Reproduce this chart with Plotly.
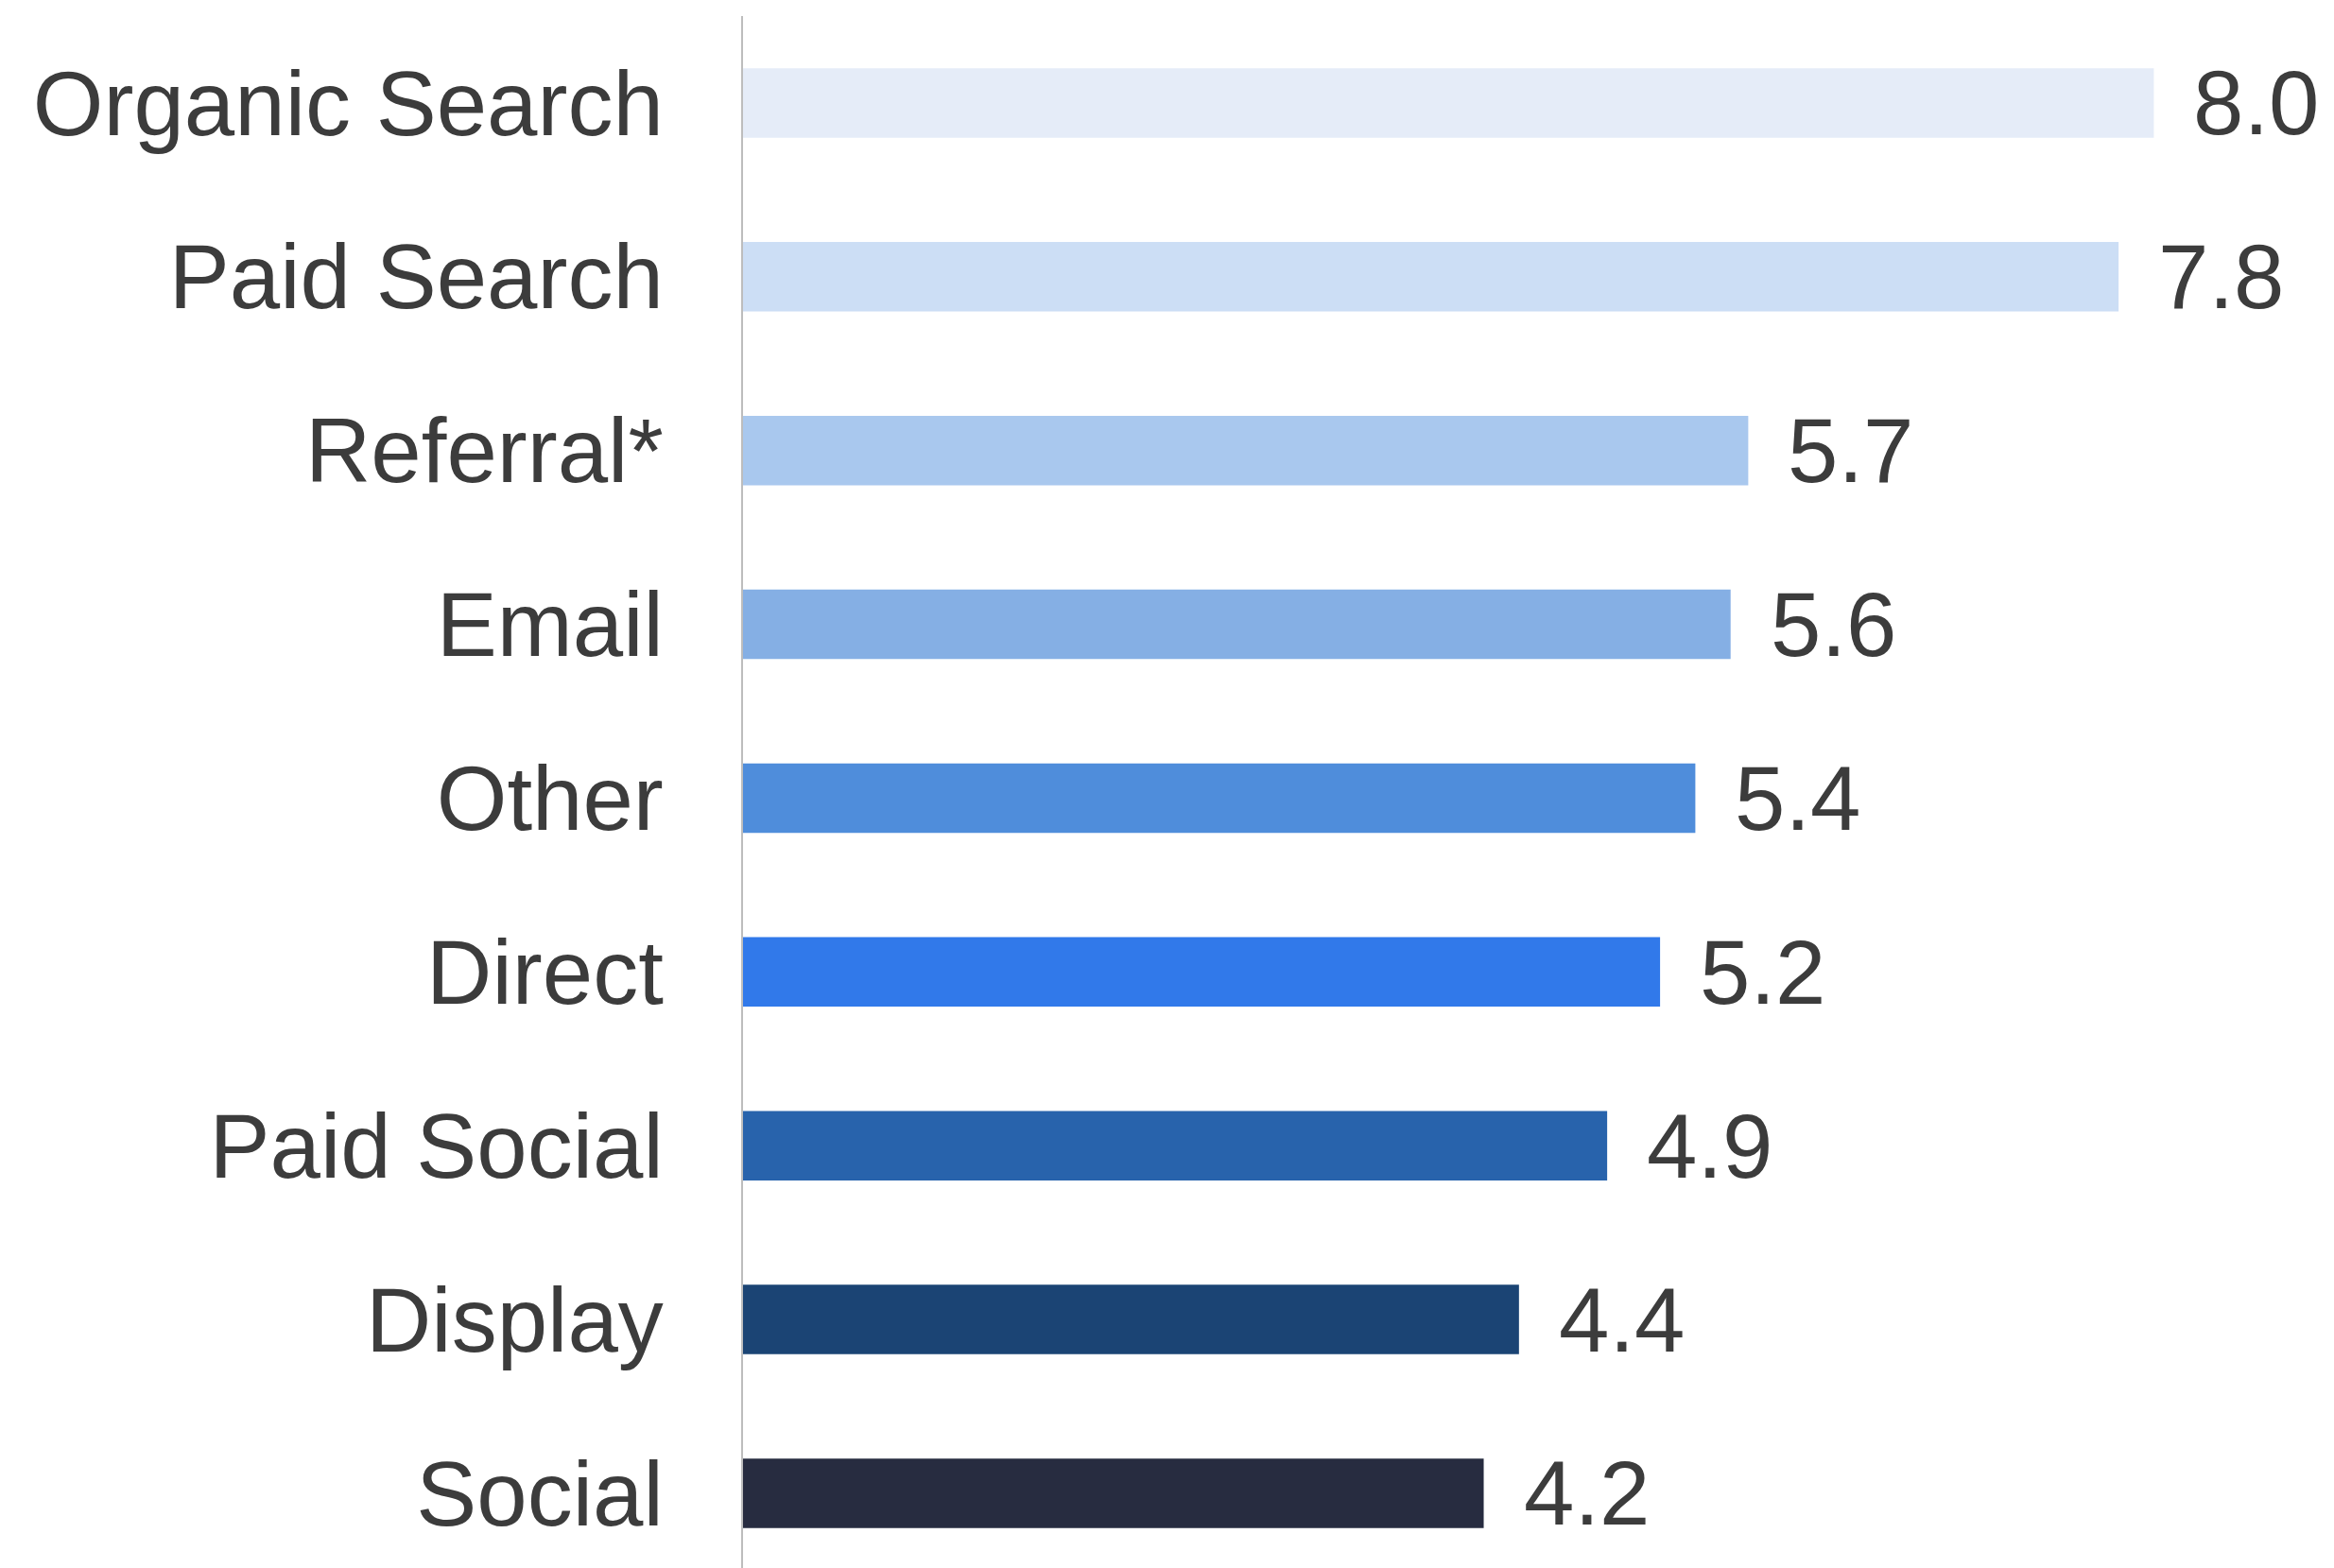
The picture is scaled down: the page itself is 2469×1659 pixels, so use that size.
import plotly.graph_objects as go

# Channel scores, top to bottom
channels = ["Organic Search", "Paid Search", "Referral*", "Email", "Other",
            "Direct", "Paid Social", "Display", "Social"]
scores = [8.0, 7.8, 5.7, 5.6, 5.4, 5.2, 4.9, 4.4, 4.2]
bar_colors = ["#E5ECF8", "#CCDEF5", "#A9C8EE", "#85AFE4", "#4F8DDB",
              "#3179EA", "#2863AC", "#1B4474", "#272C40"]

positions = list(range(len(channels)))
label_font = dict(family="Liberation Sans, Arial, sans-serif", size=96, color="#3C3C3C")

fig = go.Figure(
    go.Bar(
        x=scores,
        y=positions,
        orientation="h",
        width=0.40,
        marker=dict(color=bar_colors, line=dict(width=0)),
        hoverinfo="x+y",
    )
)

# Value labels just past the end of each bar
for pos, val in zip(positions, scores):
    fig.add_annotation(
        x=val, y=pos, xref="x", yref="y",
        text=f"{val:.1f}",
        showarrow=False,
        xanchor="left", yanchor="middle",
        xshift=40,
        font=label_font,
    )

fig.update_layout(
    width=2469,
    height=1659,
    margin=dict(l=786, r=4, t=17, b=0),
    paper_bgcolor="white",
    plot_bgcolor="white",
    showlegend=False,
    font=dict(family="Liberation Sans, Arial, sans-serif", color="#3C3C3C"),
)

fig.update_xaxes(
    range=[0, 9.0],
    showgrid=False,
    zeroline=False,
    showticklabels=False,
    showline=False,
)

fig.update_yaxes(
    tickmode="array",
    tickvals=positions,
    ticktext=channels,
    range=[8.43, -0.5],
    showgrid=False,
    zeroline=False,
    showline=True,
    linecolor="#BDBDBD",
    linewidth=2,
    ticks="outside",
    ticklen=63,
    tickcolor="rgba(0,0,0,0)",
    tickfont=label_font,
)

fig.write_html("out.html")
